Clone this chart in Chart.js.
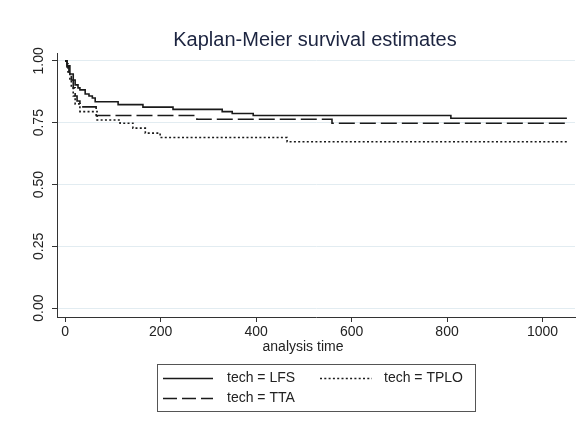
<!DOCTYPE html>
<html>
<head>
<meta charset="utf-8">
<script src="https://cdn.jsdelivr.net/npm/chart.js@4"></script>
<style>
  body { margin: 0; background: #fff; }
  canvas { display: block; }
</style>
</head>
<body>
<canvas id="kmChart" width="588" height="427"></canvas>
<script>
// Kaplan-Meier estimates (time, survival after that time)
const lfsTime  = [0, 4, 10, 17, 21, 27, 31, 42, 50, 57, 63, 111, 163, 226, 329, 350, 394, 808, 1051];
const lfsSurv  = [1, 0.980, 0.947, 0.923, 0.903, 0.891, 0.883, 0.866, 0.858, 0.850, 0.835, 0.823, 0.813, 0.804, 0.795, 0.787, 0.779, 0.768, 0.768];
const ttaTime  = [0, 4, 8, 13, 17, 21, 25, 31, 65, 276, 559, 1051];
const ttaSurv  = [1, 0.976, 0.955, 0.923, 0.891, 0.858, 0.838, 0.814, 0.779, 0.764, 0.748, 0.748];
const tploTime = [0, 2, 6, 10, 13, 17, 21, 31, 67, 115, 142, 168, 199, 465, 1051];
const tploSurv = [1, 0.988, 0.955, 0.923, 0.891, 0.858, 0.826, 0.795, 0.761, 0.748, 0.728, 0.708, 0.690, 0.673, 0.673];

const seriesNames = ['tech = LFS', 'tech = TTA', 'tech = TPLO'];
const xTicks = [0, 200, 400, 600, 800, 1000];
const yTicks = [0, 0.25, 0.5, 0.75, 1];
const yTickLabels = ['0.00', '0.25', '0.50', '0.75', '1.00'];

const FONT = "'Liberation Sans', Arial, sans-serif";
const INK = '#222';

function toPoints(ts, ss) {
    return ts.map((t, i) => ({ x: t, y: ss[i] }));
}

function lineSet(label, ts, ss, dash) {
    return {
        label: label,
        data: toPoints(ts, ss),
        borderColor: '#1a1a1a',
        borderWidth: 1.6,
        borderDash: dash,
        pointRadius: 0,
        stepped: 'before',
        fill: false
    };
}

// legend slots: [sample x0, sample x1, text x, row y]
const legendSlots = [
    [163, 213, 227, 378],
    [163, 213, 227, 398],
    [320, 372, 384, 378]
];

const stataDecor = {
    id: 'stataDecor',
    beforeDraw(chart) {
        const c = chart.ctx;
        c.save();
        c.fillStyle = '#fff';
        c.fillRect(0, 0, chart.width, chart.height);
        c.restore();
    },
    afterDraw(chart) {
        const c = chart.ctx;
        const yScale = chart.scales.y;
        c.save();

        // title
        c.fillStyle = '#1c2440';
        c.font = '20px ' + FONT;
        c.textAlign = 'center';
        c.textBaseline = 'middle';
        c.fillText('Kaplan-Meier survival estimates', 315, 40);

        // rotated y tick labels
        c.fillStyle = INK;
        c.font = '14px ' + FONT;
        yTicks.forEach((v, i) => {
            c.save();
            c.translate(39, yScale.getPixelForValue(v));
            c.rotate(-Math.PI / 2);
            c.fillText(yTickLabels[i], 0, 0);
            c.restore();
        });

        // x axis title
        c.fillText('analysis time', 303, 347);

        // legend box
        c.strokeStyle = '#555';
        c.lineWidth = 1;
        c.strokeRect(157.5, 364.5, 318, 47);
        c.textAlign = 'left';
        chart.data.datasets.forEach((ds, i) => {
            const s = legendSlots[i];
            c.save();
            c.strokeStyle = ds.borderColor;
            c.lineWidth = ds.borderWidth;
            c.setLineDash(i === 1 ? [14, 5] : ds.borderDash);
            c.beginPath();
            c.moveTo(s[0], s[3] + 0.5);
            c.lineTo(s[1], s[3] + 0.5);
            c.stroke();
            c.restore();
            c.fillStyle = INK;
            c.fillText(ds.label, s[2], s[3]);
        });
        c.restore();
    }
};

new Chart(document.getElementById('kmChart').getContext('2d'), {
    type: 'line',
    data: {
        datasets: [
            lineSet(seriesNames[0], lfsTime, lfsSurv, []),
            lineSet(seriesNames[1], ttaTime, ttaSurv, [16, 5]),
            lineSet(seriesNames[2], tploTime, tploSurv, [2, 2.3])
        ]
    },
    options: {
        responsive: false,
        animation: false,
        layout: { padding: { top: 53, right: 13, left: 0, bottom: 0 } },
        plugins: {
            legend: { display: false },
            tooltip: { enabled: false }
        },
        scales: {
            x: {
                type: 'linear',
                min: -17,
                max: 1068,
                afterBuildTicks: axis => { axis.ticks = xTicks.map(v => ({ value: v })); },
                afterFit: axis => { axis.height = 110; },
                ticks: {
                    callback: v => String(v),
                    color: INK,
                    font: { family: FONT, size: 14 },
                    padding: 2,
                    maxRotation: 0,
                    autoSkip: false
                },
                grid: { drawOnChartArea: false, tickLength: 5, tickColor: '#333' },
                border: { display: true, color: '#333', width: 1 }
            },
            y: {
                min: -0.036,
                max: 1.032,
                afterBuildTicks: axis => { axis.ticks = yTicks.map(v => ({ value: v })); },
                afterFit: axis => { axis.width = 57; },
                ticks: { display: false },
                grid: { color: '#e2ecf1', lineWidth: 1, tickLength: 5, tickColor: '#333' },
                border: { display: true, color: '#333', width: 1 }
            }
        }
    },
    plugins: [stataDecor]
});
</script>
</body>
</html>
